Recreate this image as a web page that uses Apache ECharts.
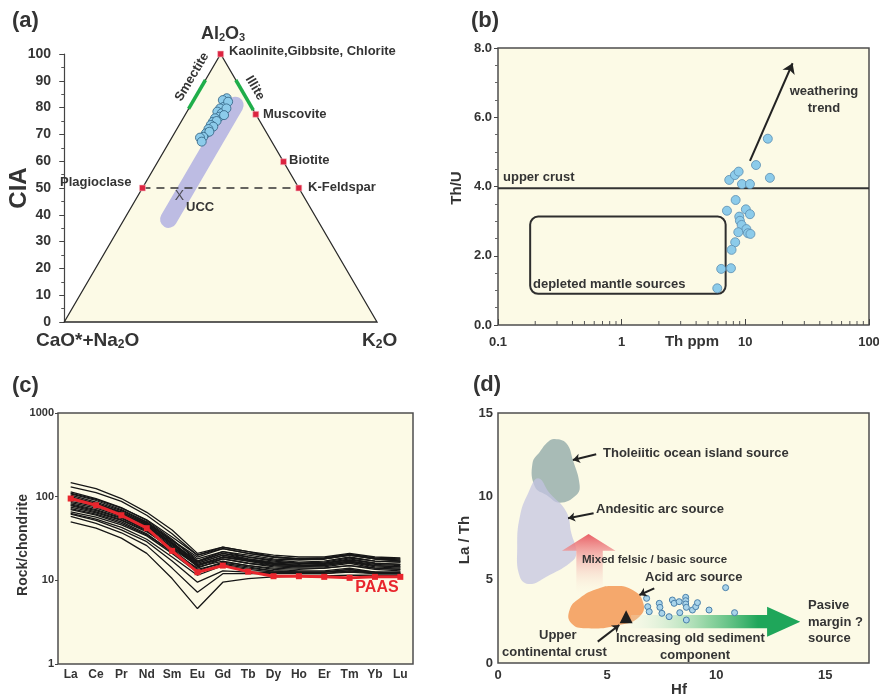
<!DOCTYPE html>
<html><head><meta charset="utf-8">
<script src="https://cdn.jsdelivr.net/npm/echarts@6/dist/echarts.min.js"></script>
<style>html,body{margin:0;padding:0;background:#fff}#c{width:879px;height:696px}</style>
</head><body><div id="c"></div>
<script>
// ---------- Panel (a): A-CN-K ternary (values as [CIA = Al2O3 %, K2O %]) ----------
const aSampleCIA = [83.5,81.6,82.8,80.3,79.7,78.5,77.9,76.6,76.0,74.7,75.0,73.5,72.9,72.0,70.4,71.0,69.1,68.8,67.3,82.2,79.7,77.2];
const aSampleK   = [10.2,10.6,9.3,10.9,10.0,9.7,11.4,11.3,10.2,10.2,11.2,10.1,11.2,10.1,10.1,10.9,9.9,9.0,10.3,11.3,12.0,12.5];
const mineralNames = ['Kaolinite','Muscovite','Biotite','K-Feldspar','Plagioclase'];
const mineralCIA   = [100, 77.5, 59.8, 50, 50];
const mineralK     = [0, 22.5, 40.2, 50, 0];
const uccCIA = [46.8], uccK = [13.4];
const trendCIA = [38.3, 80.9], trendK = [14.2, 14.2];
const smectiteCIA = [79.5, 90.3];           // on A-CN edge (K2O = 0)
const illiteCIA = [90.3, 79.1];             // on A-K edge (CN = 0)
const triCIA = [100, 0, 0], triK = [0, 0, 100];

// ---------- Panel (b): Th/U vs Th ----------
const bTh  = [15.2,12.2,15.8,7.41,8.24,8.83,9.39,10.9,8.35,7.10,10.1,10.9,8.93,9.04,9.33,10.2,8.77,10.5,11.0,8.28,7.74,6.38,7.65,5.93];
const bThU = [5.38,4.62,4.25,4.19,4.33,4.43,4.07,4.07,3.61,3.30,3.34,3.20,3.13,3.01,2.89,2.77,2.68,2.65,2.63,2.39,2.17,1.62,1.64,1.06];
const upperCrustThU = 3.95;
const weatherTh = [10.9, 24.1], weatherThU = [4.74, 7.56];
const depletedTh = [0.182, 6.93], depletedThU = [0.90, 3.13];
const bMinorTicks = [0.2,0.3,0.4,0.5,0.6,0.7,0.8,0.9,2,3,4,5,6,7,8,9,20,30,40,50,60,70,80,90];

// ---------- Panel (c): chondrite-normalised REE ----------
const REE = ['La','Ce','Pr','Nd','Sm','Eu','Gd','Tb','Dy','Ho','Er','Tm','Yb','Lu'];
const paas = [95,79,60,42,22.5,12.5,15,12.7,11.2,11.2,11,10.7,11,11];
const cSamples = [
  [147,125,95,65,40,21,25,22,19,18,18,20,18,17],
  [131,112,88,60,36,20,24,21,19,18,18,20,18,17],
  [114,95,74,52,31,17,21,18,16,15,15.5,17,15,14.5],
  [110,93,73,53,33,20,25,22,20,19,19,21,19,18.5],
  [108,90,70,50,30,18,22,19,17,16,16,18,16,15.5],
  [104,86,68,49,29,16,20,17.5,15.5,15,15,16.5,14.5,14],
  [100,83,66,47,28,15.5,19,17,15,14.5,14.5,16,14,13.5],
  [97,82,65,48,30,19,24,21,19,18,18.5,20.5,18.5,18],
  [95,80,63,46,28,17,22,20,18,17.5,18,20,18,17.5],
  [92,78,62,45,27,15,18,16,14.5,14,14,15,13.5,13],
  [88,76,60,44,27,16.5,21,19,17.5,16.5,17,19,17,16.5],
  [85,73,58,43,26,14.5,17,15,13.5,13,13,14,12.5,12.5],
  [82,70,56,41,25,15,19,17.5,16,15.5,16,17.5,16,15.5],
  [80,68,55,40,25,16,20,18,16.5,16,16.5,18.5,17,16.5],
  [78,66,53,39,23.5,13.5,16,14.5,13,12.5,12.5,13.5,12,12],
  [75,64,52,38,24,15,19,17,15.5,15,15.5,17,15.5,15],
  [72,62,50,36,22,13,16.5,15,14,13.5,14,15,14,13.5],
  [70,60,48,35,22,14,18,16,15,14.5,15,16.5,15,14.5],
  [66,57,46,34,21,12.5,15.5,14,13,12.5,12.5,13.5,12.5,12],
  [63,54,43,31,19,11.5,15,13.5,12.5,12,12,13,12,12],
  [62,52,40,29,17,9.5,13,12.5,12.5,12.5,12.5,13,12.5,12.5],
  [58,48,37,26,14,7.2,12,12,12,12,12,12.5,12,12],
  [50,42,32,21,10.5,4.6,9.5,10.5,11,11.2,11.3,11.5,11.5,11.5]
];

// ---------- Panel (d): La/Th vs Hf ----------
const dHf   = [6.81,6.86,6.93,7.39,7.42,7.51,7.84,7.99,8.07,8.30,8.33,8.60,8.60,8.60,8.63,8.63,8.91,9.06,9.14,9.67,10.43,10.84];
const dLaTh = [3.88,3.38,3.08,3.58,3.34,2.98,2.78,3.78,3.58,3.68,3.02,3.94,3.74,3.54,3.34,2.58,3.18,3.38,3.62,3.18,4.52,3.02];
const uccHf = [5.87], uccLaTh = [2.78];
const tholHf   = [2.60,3.13,3.43,3.74,3.59,2.83,2.22,1.69,1.58,1.92,2.30];
const tholLaTh = [13.44,13.18,12.18,10.68,10.08,9.62,10.08,10.58,11.98,12.68,13.28];
const andHf    = [1.84,2.37,3.13,3.36,3.59,3.28,2.22,1.46,1.00,0.88,1.00,1.38];
const andLaTh  = [11.08,10.18,9.08,7.78,6.58,5.98,5.18,4.74,5.18,6.98,8.78,10.18];
const acidHf   = [5.26,6.17,6.66,6.48,5.56,4.04,3.36,3.28,3.74,4.50];
const acidLaTh = [4.62,4.38,3.58,2.78,2.28,2.08,2.38,3.18,3.88,4.42];
const mixHf    = [4.15,5.38,4.80,4.80,3.59,3.59,2.93];
const mixLaTh  = [7.74,6.74,6.74,4.00,4.00,6.74,6.74];
const pasHf    = [6.10,12.33,12.33,13.85,12.33,12.33,6.10];
const pasLaTh  = [2.88,2.88,3.38,2.48,1.58,2.08,2.08];
const pointerFromHf = [4.50,4.38,7.16,4.57], pointerFromLaTh = [12.52,8.98,4.48,1.28];
const pointerToHf   = [3.43,3.21,6.48,5.56], pointerToLaTh   = [12.18,8.68,4.08,2.28];

// ---------- helpers ----------
const F = "'Liberation Sans', Arial, Helvetica, sans-serif";
const TXT = '#343434';
const CREAM = '#fcfae6';
function tern(A, K) { return [K + A / 2, A]; }
function zip(a, b) { return a.map((v, i) => [v, b[i]]); }
function polySeries(xi, pts, style, smooth, z) {
  return { type: 'custom', xAxisIndex: xi, yAxisIndex: xi, silent: true, z: z, data: [[1, 1]],
    renderItem: (p, api) => ({ type: 'polygon', shape: { points: pts.map(q => api.coord(q)), smooth: smooth || 0 }, style: style }) };
}
function T(text, x, y, size, o) {
  o = o || {};
  const st = { text: text, font: (o.normal ? '' : 'bold ') + size + 'px ' + F, fill: o.color || TXT,
    align: o.align || 'left', verticalAlign: 'middle', textAlign: o.align || 'left', textVerticalAlign: 'middle' };
  if (o.rich) st.rich = o.rich;
  return { type: 'text', x: x, y: y, rotation: o.rot || 0, z: 50, silent: true, style: st };
}
function subRich(big, small) {
  return { n: { font: 'bold ' + big + 'px ' + F, fill: TXT }, s: { font: 'bold ' + small + 'px ' + F, fill: TXT, verticalAlign: 'bottom' } };
}
const lab = (size) => ({ fontFamily: F, fontWeight: 'bold', fontSize: size, color: TXT });

const series = [];
// (a)
series.push({ type: 'custom', xAxisIndex: 0, yAxisIndex: 0, silent: true, z: 1, data: [[1, 1]],
  renderItem: (p, api) => ({ type: 'polygon', shape: { points: triCIA.map((a, i) => api.coord(tern(a, triK[i]))) },
    style: { fill: CREAM, stroke: '#2a2a2a', lineWidth: 1.3 } }) });
series.push({ type: 'line', xAxisIndex: 0, yAxisIndex: 0, silent: true, z: 2, symbol: 'none',
  data: trendCIA.map((a, i) => tern(a, trendK[i])), lineStyle: { width: 17, color: 'rgba(172,172,226,0.8)', cap: 'round' } });
series.push({ type: 'line', xAxisIndex: 0, yAxisIndex: 0, silent: true, z: 3, symbol: 'none',
  data: smectiteCIA.map(a => tern(a, 0)), lineStyle: { width: 3.5, color: '#1fae4a' } });
series.push({ type: 'line', xAxisIndex: 0, yAxisIndex: 0, silent: true, z: 3, symbol: 'none',
  data: illiteCIA.map(a => tern(a, 100 - a)), lineStyle: { width: 3.5, color: '#1fae4a' } });
series.push({ type: 'line', xAxisIndex: 0, yAxisIndex: 0, silent: true, z: 3, symbol: 'none',
  data: [tern(mineralCIA[4], mineralK[4]), tern(mineralCIA[3], mineralK[3])], lineStyle: { width: 1.3, color: '#333', type: [8, 6] } });
series.push({ type: 'scatter', xAxisIndex: 0, yAxisIndex: 0, silent: true, z: 5, symbolSize: 9,
  data: aSampleCIA.map((a, i) => tern(a, aSampleK[i])), itemStyle: { color: '#8ccbea', borderColor: '#2f5f80', borderWidth: 0.8, opacity: 1 } });
series.push({ type: 'scatter', xAxisIndex: 0, yAxisIndex: 0, silent: true, z: 6, symbol: 'rect', symbolSize: 6,
  data: mineralCIA.map((a, i) => tern(a, mineralK[i])), itemStyle: { color: '#dc2440', borderColor: '#f6c0c8', borderWidth: 0.6, opacity: 1 } });
series.push({ type: 'scatter', xAxisIndex: 0, yAxisIndex: 0, silent: true, z: 6, symbolSize: 2,
  data: uccCIA.map((a, i) => tern(a, uccK[i])), itemStyle: { color: 'rgba(0,0,0,0)' },
  label: { show: true, position: 'inside', formatter: 'X', fontFamily: F, fontSize: 14, color: '#333' } });

// (b)
series.push({ type: 'line', xAxisIndex: 1, yAxisIndex: 1, silent: true, z: 3, symbol: 'none',
  data: [[0.1, upperCrustThU], [100, upperCrustThU]], lineStyle: { width: 2, color: '#333' } });
series.push({ type: 'custom', xAxisIndex: 1, yAxisIndex: 1, silent: true, z: 3, data: [[1, 1]],
  renderItem: (p, api) => {
    const a = api.coord([depletedTh[0], depletedThU[1]]), b = api.coord([depletedTh[1], depletedThU[0]]);
    return { type: 'rect', shape: { x: a[0], y: a[1], width: b[0] - a[0], height: b[1] - a[1], r: 8 }, style: { fill: 'none', stroke: '#2e2e2e', lineWidth: 2 } };
  } });
series.push({ type: 'lines', coordinateSystem: 'cartesian2d', xAxisIndex: 1, yAxisIndex: 1, silent: true, z: 4,
  symbol: ['none', 'arrow'], symbolSize: 10, lineStyle: { color: '#222', width: 2, opacity: 1 },
  data: [{ coords: zip(weatherTh, weatherThU) }] });
series.push({ type: 'scatter', xAxisIndex: 1, yAxisIndex: 1, silent: true, z: 5, symbolSize: 9,
  data: zip(bTh, bThU), itemStyle: { color: '#8ccbea', borderColor: '#5a8db0', borderWidth: 0.8, opacity: 1 } });
series.push({ type: 'custom', xAxisIndex: 1, yAxisIndex: 1, silent: true, z: 4, data: bMinorTicks.map(v => [v, 0]),
  renderItem: (p, api) => { const pt = api.coord([api.value(0), 0]);
    return { type: 'line', shape: { x1: pt[0], y1: pt[1], x2: pt[0], y2: pt[1] - 4 }, style: { stroke: '#555', lineWidth: 1 } }; } });

// (c)
cSamples.forEach(s => series.push({ type: 'line', xAxisIndex: 2, yAxisIndex: 2, silent: true, z: 2, symbol: 'none',
  data: s, lineStyle: { color: '#161616', width: 1.3 } }));
series.push({ type: 'line', xAxisIndex: 2, yAxisIndex: 2, silent: true, z: 5, symbol: 'rect', symbolSize: 6,
  data: paas, lineStyle: { color: '#e8262d', width: 3 }, itemStyle: { color: '#e8262d' } });

// (d)
series.push(polySeries(3, zip(tholHf, tholLaTh), { fill: '#a8bbb6' }, 0.45, 1));
series.push(polySeries(3, zip(andHf, andLaTh), { fill: 'rgba(196,196,226,0.72)' }, 0.45, 2));
series.push(polySeries(3, zip(mixHf, mixLaTh), { fill: new echarts.graphic.LinearGradient(0, 0, 0, 1, [
  { offset: 0, color: 'rgba(232,88,95,0.95)' }, { offset: 0.3, color: 'rgba(240,150,150,0.75)' }, { offset: 1, color: 'rgba(252,250,230,0)' }]) }, 0, 3));
series.push(polySeries(3, zip(acidHf, acidLaTh), { fill: '#f5a86c' }, 0.5, 4));
series.push(polySeries(3, zip(pasHf, pasLaTh), { fill: new echarts.graphic.LinearGradient(0, 0, 1, 0, [
  { offset: 0, color: 'rgba(230,245,235,0.2)' }, { offset: 0.45, color: 'rgba(110,200,140,0.75)' }, { offset: 0.75, color: '#1fa65a' }, { offset: 1, color: '#1fa65a' }]) }, 0, 5));
series.push({ type: 'scatter', xAxisIndex: 3, yAxisIndex: 3, silent: true, z: 6, symbolSize: 6,
  data: zip(dHf, dLaTh), itemStyle: { color: '#a9d4ea', borderColor: '#4a80aa', borderWidth: 1, opacity: 1 } });
series.push({ type: 'scatter', xAxisIndex: 3, yAxisIndex: 3, silent: true, z: 7, symbol: 'triangle', symbolSize: 13,
  data: zip(uccHf, uccLaTh), itemStyle: { color: '#1e1e1e', opacity: 1 } });
series.push({ type: 'lines', coordinateSystem: 'cartesian2d', xAxisIndex: 3, yAxisIndex: 3, silent: true, z: 7,
  symbol: ['none', 'arrow'], symbolSize: 7, lineStyle: { color: '#222', width: 2, opacity: 1 },
  data: pointerFromHf.map((h, i) => ({ coords: [[h, pointerFromLaTh[i]], [pointerToHf[i], pointerToLaTh[i]]] })) });

const gridBox = { show: true, backgroundColor: CREAM, borderColor: '#4d4d4d', borderWidth: 1.5, outerBoundsMode: 'none' };

const option = {
  animation: false,
  backgroundColor: '#ffffff',
  textStyle: { fontFamily: F },
  grid: [
    { left: 58, top: 54, width: 319, height: 268, show: false, outerBoundsMode: 'none' },
    Object.assign({ left: 498, top: 48, width: 371, height: 277 }, gridBox),
    Object.assign({ left: 58, top: 413, width: 355, height: 251 }, gridBox),
    Object.assign({ left: 498, top: 413, width: 371, height: 250 }, gridBox)
  ],
  xAxis: [
    { gridIndex: 0, type: 'value', min: -2, max: 100, show: false },
    { gridIndex: 1, type: 'log', logBase: 10, min: 0.1, max: 100, splitLine: { show: false }, axisLine: { show: false },
      axisTick: { show: true, inside: true, length: 6, lineStyle: { color: '#444' } }, axisLabel: Object.assign({ margin: 11 }, lab(13)) },
    { gridIndex: 2, type: 'category', data: REE, boundaryGap: true, axisLine: { show: false }, axisTick: { show: false },
      axisLabel: Object.assign({ margin: 5, interval: 0 }, lab(12)) },
    { gridIndex: 3, type: 'value', min: 0, max: 17, interval: 5, splitLine: { show: false }, axisLine: { show: false }, axisTick: { show: false },
      axisLabel: Object.assign({ margin: 6, showMaxLabel: false }, lab(13)) }
  ],
  yAxis: [
    { gridIndex: 0, type: 'value', min: 0, max: 100, interval: 10, splitLine: { show: false },
      axisLine: { show: true, lineStyle: { color: '#444', width: 1.2 } }, axisTick: { show: true, length: 5, lineStyle: { color: '#444' } },
      minorTick: { show: true, splitNumber: 2, length: 3, lineStyle: { color: '#555' } }, axisLabel: Object.assign({ margin: 7 }, lab(14)) },
    { gridIndex: 1, type: 'value', min: 0, max: 8, interval: 2, splitLine: { show: false }, axisLine: { show: false },
      axisTick: { show: true, length: 4, lineStyle: { color: '#444' } }, minorTick: { show: true, splitNumber: 4, length: 3, lineStyle: { color: '#666' } },
      axisLabel: Object.assign({ margin: 6, formatter: v => v.toFixed(1) }, lab(13)) },
    { gridIndex: 2, type: 'log', logBase: 10, min: 1, max: 1000, splitLine: { show: false }, axisLine: { show: false },
      axisTick: { show: true, length: 3, lineStyle: { color: '#444' } }, axisLabel: Object.assign({ margin: 4, formatter: v => String(Math.round(v)) }, lab(11)) },
    { gridIndex: 3, type: 'value', min: 0, max: 15, interval: 5, splitLine: { show: false }, axisLine: { show: false }, axisTick: { show: false },
      axisLabel: Object.assign({ margin: 5 }, lab(13)) }
  ],
  series: series,
  graphic: [
    // (a)
    T('(a)', 12, 21, 22),
    T('{n|Al}{s|2}{n|O}{s|3}', 223, 34, 18, { align: 'center', rich: subRich(18, 11) }),
    T('Kaolinite,Gibbsite, Chlorite', 229, 51, 13),
    T('Smectite', 192, 77, 13, { align: 'center', rot: 1.035 }),
    T('Illite', 255, 88, 13, { align: 'center', rot: -1.035 }),
    T('Muscovite', 263, 114, 13),
    T('Biotite', 289, 160, 13),
    T('Plagioclase', 60, 182, 13),
    T('K-Feldspar', 308, 187, 13),
    T('UCC', 186, 207, 13),
    T('CIA', 19, 188, 24, { align: 'center', rot: Math.PI / 2 }),
    T('{n|CaO*+Na}{s|2}{n|O}', 36, 341, 19, { rich: subRich(19, 12) }),
    T('{n|K}{s|2}{n|O}', 362, 341, 19, { rich: subRich(19, 12) }),
    // (b)
    T('(b)', 471, 21, 22),
    T('Th/U', 457, 188, 15, { align: 'center', rot: Math.PI / 2 }),
    T('Th ppm', 692, 342, 15, { align: 'center' }),
    T('upper crust', 503, 177, 13),
    T('weathering', 824, 91, 13, { align: 'center' }),
    T('trend', 824, 108, 13, { align: 'center' }),
    T('depleted mantle sources', 533, 284, 13),
    // (c)
    T('(c)', 12, 386, 22),
    T('Rock/chondrite', 23, 545, 14, { align: 'center', rot: Math.PI / 2 }),
    T('PAAS', 377, 588, 16, { align: 'center', color: '#e8262d' }),
    // (d)
    T('(d)', 473, 385, 22),
    T('La / Th', 465, 540, 15, { align: 'center', rot: Math.PI / 2 }),
    T('Hf', 679, 690, 15, { align: 'center' }),
    T('Tholeiitic ocean island source', 603, 453, 13),
    T('Andesitic arc source', 596, 509, 13),
    T('Mixed felsic / basic source', 582, 560, 11.5),
    T('Acid arc source', 645, 577, 13),
    T('Pasive', 808, 605, 13),
    T('margin ?', 808, 622, 13),
    T('source', 808, 638, 13),
    T('Upper', 539, 635, 13),
    T('continental crust', 502, 652, 13),
    T('Increasing old sediment', 616, 638, 13),
    T('component', 660, 655, 13)
  ]
};
const chart = echarts.init(document.getElementById('c'), null, { renderer: 'canvas' });
chart.setOption(option);
</script>
</body></html>
